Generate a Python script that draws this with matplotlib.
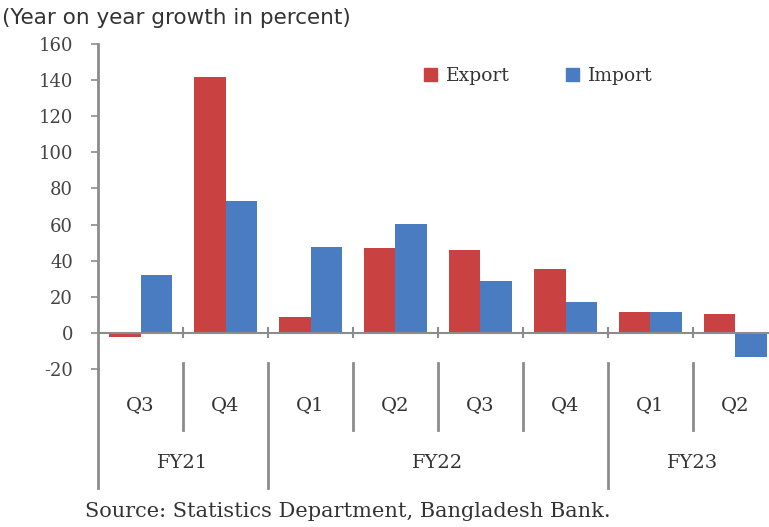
import matplotlib
matplotlib.use("Agg")
import matplotlib.pyplot as plt
from matplotlib.patches import Patch
import numpy as np

quarters = ["Q3", "Q4", "Q1", "Q2", "Q3", "Q4", "Q1", "Q2"]
fiscal_years = ["FY21", "FY22", "FY23"]
quarters_per_year = [2, 4, 2]
export_growth = [-2, 142, 9, 47, 46, 35.5, 11.5, 10.5]
import_growth = [32, 73, 47.5, 60.5, 28.5, 17, 11.5, -13.5]

red = "#C94141"
blue = "#4A7CC2"
grey = "#8C8C8C"
txt = "#333333"
serif = ["DejaVu Serif", "Liberation Serif"]

plt.rcParams["axes.unicode_minus"] = False

fig = plt.figure(figsize=(7.69, 5.27), dpi=100)
ax = fig.add_axes([98 / 769, 0.2998, 680 / 769, 0.6167])

x = np.arange(len(quarters))
w = 0.375
ax.bar(x - w / 2, export_growth, w, color=red, zorder=2)
ax.bar(x + w / 2, import_growth, w, color=blue, zorder=2)

ax.set_xlim(-0.5, len(quarters) - 0.5)
ax.set_ylim(-20, 160)
ax.set_yticks(np.arange(-20, 161, 20))
ax.set_xticks([])

for s in ["top", "right", "bottom"]:
    ax.spines[s].set_visible(False)
ax.spines["left"].set_color(grey)
ax.spines["left"].set_linewidth(2)
ax.tick_params(axis="y", direction="out", length=5, width=1.2, color=grey,
               pad=13, labelsize=13, labelcolor="#444444")
for lab in ax.get_yticklabels():
    lab.set_family(serif)

# zero line with small category tick marks
ax.axhline(0, color=grey, lw=1.5, zorder=3)
for b in x[:-1] + 0.5:
    ax.plot([b, b], [-2.5, 2.5], color=grey, lw=1.5, zorder=3)

# two-level category axis below the plot
tr = ax.get_xaxis_transform()
ax.plot([-0.5, -0.5], [0, -0.366], transform=tr, color=grey, lw=2, clip_on=False)
for xi, q in zip(x, quarters):
    ax.text(xi, -0.111, q, transform=tr, ha="center", va="center",
            fontsize=14, family=serif, color=txt)

start = 0
for fy, n in zip(fiscal_years, quarters_per_year):
    end = start + n
    for b in range(start + 1, end):
        ax.plot([b - 0.5, b - 0.5], [0.018, -0.188], transform=tr,
                color=grey, lw=2, clip_on=False)
    if end < len(quarters):
        ax.plot([end - 0.5, end - 0.5], [0.018, -0.366], transform=tr,
                color=grey, lw=2, clip_on=False)
    ax.text((start + end - 1) / 2, -0.289, fy, transform=tr, ha="center",
            va="center", fontsize=14, family=serif, color=txt)
    start = end

handles = [Patch(color=red, label="Export"), Patch(color=blue, label="Import")]
leg = ax.legend(handles=handles, loc="center left", bbox_to_anchor=(0.455, 0.902),
                ncol=2, frameon=False, handlelength=0.7, handleheight=0.7,
                handletextpad=0.45, columnspacing=3.0,
                prop={"family": serif, "size": 13.5})
for t in leg.get_texts():
    t.set_color(txt)

fig.text(0.003, 0.966, "(Year on year growth in percent)", ha="left",
         va="center", fontsize=15.5, family=["DejaVu Sans"], color=txt)
fig.text(0.1105, 0.0285, "Source: Statistics Department, Bangladesh Bank.",
         ha="left", va="center", fontsize=15, family=serif, color=txt)

fig.savefig("out.png", dpi=100, facecolor="white")
